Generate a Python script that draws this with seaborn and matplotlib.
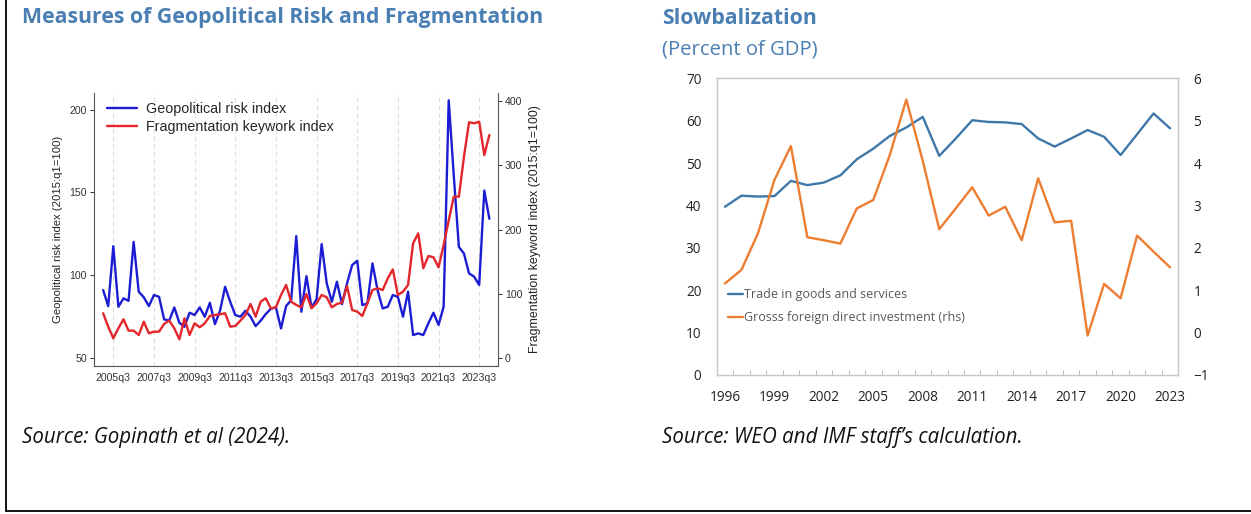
import numpy as np
import pandas as pd
import matplotlib
matplotlib.use("Agg")
import matplotlib.pyplot as plt
from matplotlib.lines import Line2D
import seaborn as sns

# ── DATA ────────────────────────────────────────────────────
# left panel: quarterly, 2005q1 .. 2024q1
gpr_index = [90.9, 81.2, 117.4, 80.8, 85.9, 84.4, 120.0, 89.9, 86.5, 81.2,
             87.9, 86.8, 73.2, 72.4, 80.4, 71.1, 68.7, 77.2, 75.8, 80.4,
             74.8, 83.2, 70.3, 78.4, 92.9, 83.8, 75.8, 74.8, 78.4, 74.8,
             69.1, 72.4, 76.4, 79.6, 80.4, 67.7, 81.2, 84.8, 123.5, 77.8,
             99.3, 80.4, 85.3, 118.7, 94.9, 83.8, 95.9, 82.4, 95.0, 106.0,
             108.6, 81.8, 82.8, 107.0, 90.9, 79.8, 80.8, 87.9, 86.8, 74.8,
             89.9, 63.7, 64.7, 63.7, 70.8, 77.2, 69.8, 80.8, 205.6, 160.0,
             117.0, 113.0, 101.0, 99.0, 94.0, 151.0, 134.0]
frag_index = [69.9, 49.0, 31.0, 46.6, 60.6, 42.9, 42.9, 36.2, 56.8, 38.8,
              41.3, 41.3, 53.3, 58.4, 46.6, 29.5, 62.1, 36.2, 54.3, 48.1,
              54.3, 65.7, 67.2, 68.3, 69.9, 49.1, 50.2, 58.4, 67.2, 84.3,
              64.6, 87.9, 93.2, 77.6, 79.2, 98.3, 113.8, 87.9, 82.8, 79.2,
              99.8, 77.6, 85.4, 98.3, 94.7, 79.2, 84.3, 86.4, 112.3, 75.0,
              72.4, 65.7, 85.4, 106.0, 108.7, 106.0, 124.0, 138.0, 98.3, 103.4,
              113.8, 178.6, 194.0, 139.8, 158.9, 156.8, 141.3, 176.0, 214.0, 251.0,
              251.0, 313.0, 366.5, 365.0, 367.4, 315.7, 346.7]
q_tick_labels = ["2005q3", "2007q3", "2009q3", "2011q3", "2013q3",
                 "2015q3", "2017q3", "2019q3", "2021q3", "2023q3"]

# right panel: annual, 1996 .. 2023
years = list(range(1996, 2024))
trade_gdp = [39.7, 42.3, 42.1, 42.2, 45.8, 44.8, 45.4, 47.1, 50.9, 53.4,
             56.4, 58.4, 60.9, 51.7, 55.8, 60.1, 59.7, 59.6, 59.2, 55.8,
             53.9, 55.8, 57.8, 56.2, 51.9, 56.8, 61.7, 58.2]
fdi_gdp = [1.16, 1.48, 2.34, 3.60, 4.40, 2.25, 2.18, 2.10, 2.93, 3.13,
           4.19, 5.50, 4.05, 2.44, 2.93, 3.43, 2.76, 2.97, 2.18, 3.64,
           2.60, 2.64, -0.07, 1.15, 0.81, 2.29, 1.91, 1.54]

# ── STYLE ───────────────────────────────────────────────────
sns.set_theme(style="white")
plt.rcParams['font.family'] = ['Open Sans', 'DejaVu Sans']

TITLE_BLUE = "#4a7fb4"
W, H = 1251, 514
fig = plt.figure(figsize=(W / 100, H / 100), dpi=100)
fig.patch.set_facecolor("white")


def box(x0, y0, x1, y1):
    """pixel box (top-left origin) -> figure fraction rect"""
    return [x0 / W, 1 - y1 / H, (x1 - x0) / W, (y1 - y0) / H]


# ── LEFT: geopolitical risk vs fragmentation ────────────────
stata = ['Liberation Sans', 'DejaVu Sans']
left_df = pd.DataFrame({"q": np.arange(len(gpr_index)),
                        "gpr": gpr_index, "frag": frag_index})

ax1 = fig.add_axes(box(94, 93, 498, 366))
ax1b = ax1.twinx()
sns.lineplot(data=left_df, x="q", y="gpr", ax=ax1, color="#1c1cd4", lw=1.7)
sns.lineplot(data=left_df, x="q", y="frag", ax=ax1b, color="#e3262b", lw=1.7)

q_ticks = [2 + 8 * i for i in range(len(q_tick_labels))]
for t in q_ticks:
    ax1.axvline(t, color="#dcdcdc", lw=0.8, ls=(0, (4, 3)), zorder=0)

ax1.set_xlim(-1.8, 77.7)
ax1.set_ylim(45, 210)
ax1b.set_ylim(-12, 412)
ax1.set_xticks(q_ticks)
ax1.set_xticklabels(q_tick_labels, family=stata)
ax1.set_yticks([50, 100, 150, 200])
ax1b.set_yticks([0, 100, 200, 300, 400])
for lab in ax1.get_yticklabels() + ax1b.get_yticklabels():
    lab.set_family(stata)
ax1.set_xlabel("")
ax1.set_ylabel("Geopolitical risk index (2015:q1=100)", fontsize=8.1,
               family=stata, color="#222", labelpad=5)
ax1b.set_ylabel("Fragmentation keyword index (2015:q1=100)", fontsize=8.9,
                family=stata, color="#222", labelpad=5)

for a in (ax1, ax1b):
    a.tick_params(direction="out", length=3, width=0.7, colors="#333",
                  labelsize=7.6, pad=2)
    for s in a.spines.values():
        s.set_color("#555")
        s.set_linewidth(0.8)
ax1.spines["top"].set_visible(False)
ax1.spines["right"].set_visible(False)
ax1b.spines["top"].set_visible(False)
ax1b.spines["left"].set_visible(False)
ax1b.spines["bottom"].set_visible(False)

h_left = [Line2D([], [], color="#1c1cd4", lw=1.7),
          Line2D([], [], color="#e3262b", lw=1.7)]
ax1.legend(h_left, ["Geopolitical risk index", "Fragmentation keywork index"],
           loc="upper left", bbox_to_anchor=(100 / W, 1 - 95 / H),
           bbox_transform=fig.transFigure, frameon=False,
           prop={"family": stata, "size": 10.3}, handlelength=2.1,
           handletextpad=0.63, borderpad=0, labelspacing=0.25)

# ── RIGHT: slowbalization ───────────────────────────────────
right_df = pd.DataFrame({"k": np.arange(len(years)),
                         "trade": trade_gdp, "fdi": fdi_gdp})

ax2 = fig.add_axes(box(716.7, 78.3, 1178.3, 375))
ax2b = ax2.twinx()
sns.lineplot(data=right_df, x="k", y="trade", ax=ax2, color="#3f78a9", lw=1.7)
sns.lineplot(data=right_df, x="k", y="fdi", ax=ax2b, color="#ed7d31", lw=1.7)

ax2.set_xlim(-0.5, len(years) - 0.5)
ax2.set_ylim(0, 70)
ax2b.set_ylim(-1, 6)
ax2.set_xticks(right_df["k"][::3])
ax2.set_xticklabels([str(y) for y in years[::3]])
ax2.set_xticks(np.arange(-0.5, len(years), 1), minor=True)
ax2.set_yticks(range(0, 71, 10))
ax2b.set_yticks(range(-1, 7))
ax2.set_xlabel("")
ax2.set_ylabel("")
ax2b.set_ylabel("")

ax2.tick_params(axis="x", which="major", length=0, pad=11, labelsize=9.8,
                colors="#222")
ax2.tick_params(axis="x", which="minor", direction="in", length=3.5,
                width=0.7, color="#bdbdbd", bottom=True)
ax2.tick_params(axis="y", length=0, pad=11, labelsize=9.8, colors="#222")
ax2b.tick_params(axis="y", length=0, pad=11, labelsize=9.8, colors="#222")
for a in (ax2, ax2b):
    for s in a.spines.values():
        s.set_color("#c8c8c8")
        s.set_linewidth(0.9)

h_right = [Line2D([], [], color="#3f78a9", lw=1.7),
           Line2D([], [], color="#ed7d31", lw=1.7)]
ax2.legend(h_right, ["Trade in goods and services",
                     "Grosss foreign direct investment (rhs)"],
           loc="upper left", bbox_to_anchor=(722 / W, 1 - 282 / H),
           bbox_transform=fig.transFigure, frameon=False, fontsize=9,
           labelcolor="#595959", handlelength=1.2, handletextpad=0.05,
           borderpad=0, labelspacing=0.8)

# ── TEXT ────────────────────────────────────────────────────
fig.text(22 / W, 1 - 18 / H, "Measures of Geopolitical Risk and Fragmentation",
         fontsize=15.3, weight="bold", color=TITLE_BLUE, va="center")
fig.text(662 / W, 1 - 18 / H, "Slowbalization",
         fontsize=15.3, weight="bold", color=TITLE_BLUE, va="center")
fig.text(662 / W, 1 - 50 / H, "(Percent of GDP)",
         fontsize=14.6, color=TITLE_BLUE, va="center")
fig.text(22 / W, 1 - 437 / H, "Source: Gopinath et al (2024).",
         fontsize=14.8, style="italic", color="#111", va="center")
fig.text(662 / W, 1 - 437 / H, "Source: WEO and IMF staff\u2019s calculation.",
         fontsize=14.8, style="italic", color="#111", va="center")

# page frame
fig.add_artist(Line2D([6 / W, 6 / W], [1 - 511 / H, 1], color="black", lw=1.3,
                      transform=fig.transFigure))
fig.add_artist(Line2D([6 / W, 1], [1 - 511 / H, 1 - 511 / H], color="black",
                      lw=1.3, transform=fig.transFigure))

fig.savefig("out.png", dpi=100)
